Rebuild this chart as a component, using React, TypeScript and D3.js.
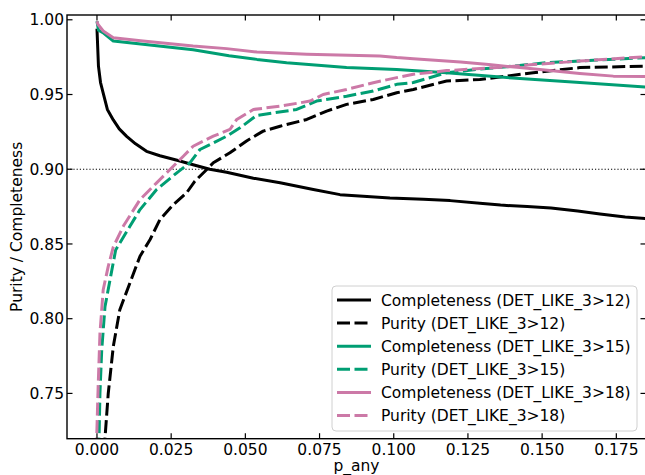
import React from "react";
import * as d3 from "d3";

type Pt = [number, number];

const comp12: Pt[] = [
  [0, 0.994], [0.0005, 0.969], [0.0012, 0.958], [0.0021, 0.951], [0.0035, 0.94], [0.0055, 0.933],
  [0.0075, 0.927], [0.01, 0.922], [0.013, 0.917], [0.0167, 0.912], [0.0212, 0.909], [0.027, 0.906],
  [0.0324, 0.903], [0.038, 0.9], [0.0437, 0.898], [0.0527, 0.894], [0.0617, 0.891], [0.0729, 0.8864],
  [0.0819, 0.883], [0.0897, 0.882], [0.0987, 0.8808], [0.11, 0.88], [0.119, 0.879], [0.13, 0.877],
  [0.136, 0.876], [0.145, 0.875], [0.153, 0.874], [0.162, 0.872], [0.1695, 0.87], [0.178, 0.868], [0.185, 0.867],
];
const pur12: Pt[] = [
  [0.0025, 0.7], [0.0027, 0.72], [0.0038, 0.75], [0.0055, 0.7814], [0.0077, 0.806], [0.0111, 0.8239],
  [0.0145, 0.8418], [0.0179, 0.853], [0.0212, 0.8663], [0.0257, 0.8763], [0.0302, 0.8842], [0.033, 0.892],
  [0.037, 0.8998], [0.0392, 0.9043], [0.0448, 0.911], [0.0504, 0.9189], [0.056, 0.9255], [0.0617, 0.9288],
  [0.0707, 0.9333], [0.0774, 0.9389], [0.0841, 0.9434], [0.0931, 0.9467], [0.101, 0.9512], [0.1066, 0.9534],
  [0.1178, 0.959], [0.129, 0.96], [0.147, 0.9646], [0.1627, 0.968], [0.185, 0.969],
];
const comp15: Pt[] = [
  [0, 0.999], [0.0005, 0.993], [0.002, 0.9914], [0.0055, 0.9858], [0.0155, 0.9836], [0.0324, 0.98],
  [0.0445, 0.976], [0.0539, 0.9735], [0.0639, 0.9713], [0.0841, 0.968], [0.101, 0.9668], [0.1178, 0.9646],
  [0.14, 0.961], [0.1627, 0.958], [0.185, 0.955],
];
const pur15: Pt[] = [
  [0.0006, 0.7], [0.0007, 0.72], [0.001, 0.75], [0.0016, 0.779], [0.0027, 0.808], [0.0044, 0.826],
  [0.0063, 0.846], [0.0111, 0.8618], [0.0145, 0.873], [0.0201, 0.8864], [0.0269, 0.8976], [0.0313, 0.9043],
  [0.0347, 0.9132], [0.0437, 0.9221], [0.0482, 0.9277], [0.0538, 0.936], [0.0673, 0.94], [0.074, 0.9456],
  [0.0841, 0.9489], [0.0931, 0.9523], [0.101, 0.9568], [0.1066, 0.958], [0.1178, 0.9646], [0.129, 0.967],
  [0.1402, 0.969], [0.1515, 0.9713], [0.1627, 0.9724], [0.185, 0.9747],
];
const comp18: Pt[] = [
  [0, 0.999], [0.0003, 0.997], [0.0021, 0.9925], [0.0055, 0.988], [0.0155, 0.9858], [0.0324, 0.9824],
  [0.0437, 0.9807], [0.0539, 0.9784], [0.0707, 0.9769], [0.0953, 0.9757], [0.101, 0.9747], [0.1066, 0.974],
  [0.1225, 0.9717], [0.132, 0.97], [0.1425, 0.968], [0.1627, 0.9641], [0.174, 0.9623], [0.185, 0.962],
];
const pur18: Pt[] = [
  [-0.0002, 0.7], [-0.0001, 0.72], [0.0004, 0.7546], [0.001, 0.79], [0.0021, 0.8194], [0.0038, 0.835],
  [0.0055, 0.848], [0.0089, 0.862], [0.0145, 0.8797], [0.0201, 0.8909], [0.0246, 0.8998], [0.0291, 0.9087],
  [0.0324, 0.9154], [0.0392, 0.9221], [0.0448, 0.9266], [0.0471, 0.9333], [0.0527, 0.94], [0.0617, 0.9422],
  [0.0718, 0.9456], [0.0762, 0.95], [0.0841, 0.9534], [0.0931, 0.9579], [0.101, 0.9613], [0.1066, 0.9635],
  [0.1178, 0.966], [0.1347, 0.968], [0.147, 0.97], [0.1627, 0.9724], [0.185, 0.9753],
];

const xTicks = [0, 0.025, 0.05, 0.075, 0.1, 0.125, 0.15, 0.175];
const yTicks = [0.75, 0.8, 0.85, 0.9, 0.95, 1.0];
const labels = [
  "Completeness (DET_LIKE_3>12)",
  "Purity (DET_LIKE_3>12)",
  "Completeness (DET_LIKE_3>15)",
  "Purity (DET_LIKE_3>15)",
  "Completeness (DET_LIKE_3>18)",
  "Purity (DET_LIKE_3>18)",
];
const seriesData = [comp12, pur12, comp15, pur15, comp18, pur18];
const colors = ["#000000", "#000000", "#009E73", "#009E73", "#CC79A7", "#CC79A7"];
const dashed = [false, true, false, true, false, true];

const W = 645, H = 475;
const L = 67, R = 646, T = 15, B = 438.7;
const FONT = "DejaVu Sans, sans-serif";
const FS = 15.5;

export default function App() {
  const x = d3.scaleLinear().domain([-0.0101, 0.185]).range([L, R]);
  const y = d3.scaleLinear().domain([0.7197, 1.0032]).range([B, T]);
  const line = d3.line<Pt>().x((d) => x(d[0])).y((d) => y(d[1])).curve(d3.curveLinear);
  const dash = "13,4.5";
  const lw = 3;
  return (
    <svg width={W} height={H} style={{ position: "absolute", left: 0, top: 0, background: "#fff" }} fontFamily={FONT}>
      <defs>
        <clipPath id="plot">
          <rect x={L} y={T} width={R - L} height={B - T} />
        </clipPath>
      </defs>
      <rect x={0} y={0} width={W} height={H} fill="#fff" />
      <line x1={L} x2={R} y1={y(0.9)} y2={y(0.9)} stroke="#000" strokeWidth={1.2} strokeDasharray="1.2,2" />
      <g clipPath="url(#plot)">
        {seriesData.map((s, i) => (
          <path key={i} d={line(s) || ""} fill="none" stroke={colors[i]} strokeWidth={lw}
            strokeDasharray={dashed[i] ? dash : undefined} strokeLinejoin="round" />
        ))}
      </g>
      {xTicks.map((t) => (
        <g key={"x" + t}>
          <line x1={x(t)} x2={x(t)} y1={B} y2={B - 5.5} stroke="#000" strokeWidth={1.2} />
          <line x1={x(t)} x2={x(t)} y1={T} y2={T + 5.5} stroke="#000" strokeWidth={1.2} />
          <text x={x(t)} y={455} textAnchor="middle" fontSize={FS} fill="#000">{t.toFixed(3)}</text>
        </g>
      ))}
      {yTicks.map((t) => (
        <g key={"y" + t}>
          <line x1={L} x2={L + 5.5} y1={y(t)} y2={y(t)} stroke="#000" strokeWidth={1.2} />
          <line x1={R} x2={R - 5.5} y1={y(t)} y2={y(t)} stroke="#000" strokeWidth={1.2} />
          <text x={64} y={y(t)} dy="0.36em" textAnchor="end" fontSize={FS} fill="#000">{t.toFixed(2)}</text>
        </g>
      ))}
      <rect x={L} y={T} width={R - L} height={B - T} fill="none" stroke="#000" strokeWidth={1.4} />
      <text x={(L + R) / 2} y={471} textAnchor="middle" fontSize={FS} fill="#000">p_any</text>
      <text transform={`translate(21.5,${(T + B) / 2}) rotate(-90)`} textAnchor="middle" fontSize={FS} fill="#000">Purity / Completeness</text>
      <g>
        <rect x={332} y={286} width={305} height={145} rx={4} ry={4} fill="#fff" fillOpacity={0.8} stroke="#d0d0d0" strokeWidth={1} />
        {labels.map((lab, i) => {
          const cy = 300 + i * 23.1;
          return (
            <g key={lab}>
              <line x1={337} x2={371} y1={cy} y2={cy} stroke={colors[i]} strokeWidth={lw}
                strokeDasharray={dashed[i] ? dash : undefined} />
              <text x={381} y={cy} dy="0.36em" fontSize={FS} fill="#000">{lab}</text>
            </g>
          );
        })}
      </g>
    </svg>
  );
}
